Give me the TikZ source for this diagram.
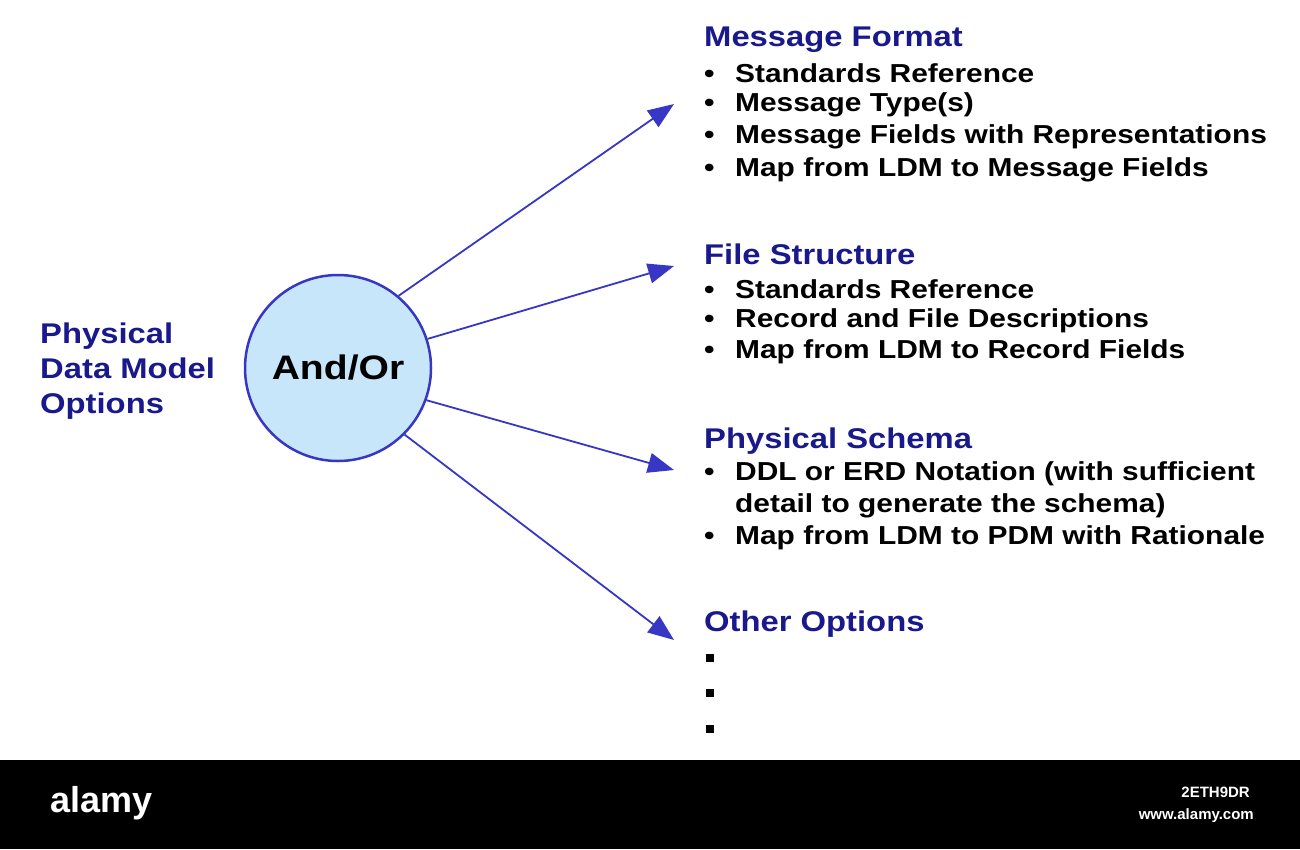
\documentclass[tikz,border=0pt]{standalone}
\usepackage{fontspec}
\setmainfont{Liberation Sans}
\newfontfamily\wide[FakeStretch=1.15]{Liberation Sans}
\usetikzlibrary{arrows.meta}
\definecolor{hd}{RGB}{25,25,140}
\definecolor{ar}{RGB}{55,55,195}
\definecolor{cf}{RGB}{200,230,250}
\begin{document}
\begin{tikzpicture}[x=1pt,y=-1pt,
  head/.style={anchor=west,font=\wide\fontsize{28.5}{30}\selectfont\bfseries,text=hd,inner sep=0},
  item/.style={anchor=west,font=\wide\fontsize{26}{30}\selectfont\bfseries,inner sep=0},
  arr/.style={ar,line width=1.8pt,-{Triangle[length=26pt,width=20pt]}}]
\useasboundingbox (0,0) rectangle (1300,849);
\fill[white] (0,0) rectangle (1300,760);
\fill[black] (0,760) rectangle (1300,849);
\node[circle,draw=ar,line width=2.5pt,fill=cf,minimum size=186pt,inner sep=0,
  font=\wide\fontsize{34}{36}\selectfont\bfseries] (c) at (338,368) {And/Or};
\node[anchor=west,align=left,text=hd,font=\wide\fontsize{28.5}{35}\selectfont\bfseries,inner sep=0] (pdm) at (40,371) {Physical\\Data Model\\Options};
\coordinate (t1) at (674,104);
\coordinate (t2) at (674,266);
\coordinate (t3) at (674,470);
\coordinate (t4) at (674,640);
\draw[arr] (c.50) -- (t1);
\draw[arr] (c.18) -- (t2);
\draw[arr] (c.-20) -- (t3);
\draw[arr] (c.-45) -- (t4);
\newcommand\bul{\makebox[31pt][l]{•}}
\node[head] (h1) at (704,40) {Message Format};
\node[item] (a1) at (704,73) {\bul Standards Reference};
\node[item] (a2) at (704,105) {\bul Message Type(s)};
\node[item] (a3) at (704,137) {\bul Message Fields with Representations};
\node[item] (a4) at (704,170) {\bul Map from LDM to Message Fields};
\node[head] (h2) at (704,254) {File Structure};
\node[item] (b1) at (704,289) {\bul Standards Reference};
\node[item] (b2) at (704,321) {\bul Record and File Descriptions};
\node[item] (b3) at (704,352) {\bul Map from LDM to Record Fields};
\node[head] (h3) at (704,441) {Physical Schema};
\node[item] (c1) at (704,474) {\bul DDL or ERD Notation (with sufficient};
\node[item] (c2) at (735,506) {detail to generate the schema)};
\node[item] (c3) at (704,538) {\bul Map from LDM to PDM with Rationale};
\node[head] (h4) at (704,624) {Other Options};
\foreach \y/\n in {658/d1,693/d2,729/d3}
  \fill (706,\y-4) rectangle (714,\y+4);
\node[anchor=west,text=white,font=\fontsize{36}{40}\selectfont\bfseries,inner sep=0] (al) at (50,803) {alamy};
\node[anchor=east,text=white,font=\fontsize{15}{18}\selectfont\bfseries,inner sep=0] (id) at (1250,792) {2ETH9DR};
\node[anchor=east,text=white,font=\fontsize{15}{18}\selectfont\bfseries,inner sep=0] (url) at (1254,816) {www.alamy.com};
\end{tikzpicture}
\end{document}
